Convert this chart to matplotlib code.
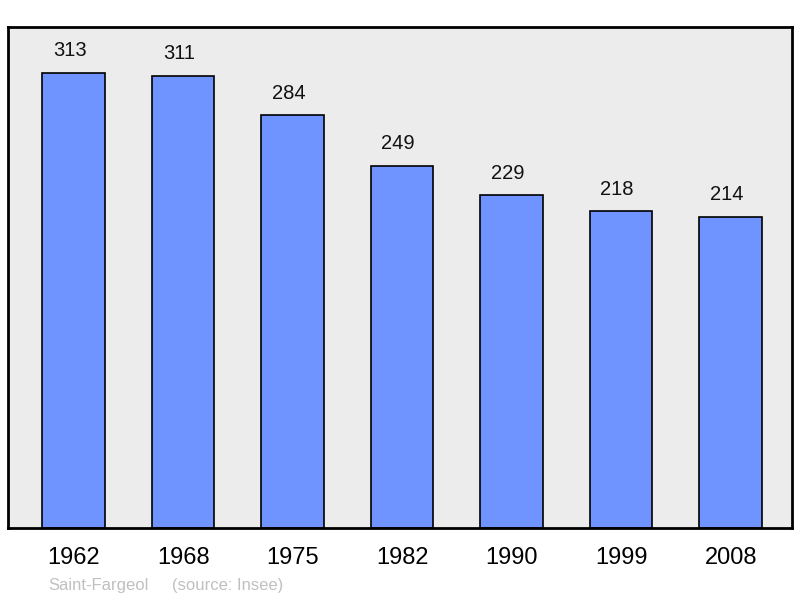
import matplotlib.pyplot as plt

years = ["1962", "1968", "1975", "1982", "1990", "1999", "2008"]
population = [313, 311, 284, 249, 229, 218, 214]

plt.rcParams['font.family'] = ['Liberation Sans', 'DejaVu Sans']

fig = plt.figure(figsize=(8, 5.98), dpi=100)
ax = fig.add_axes([0.01, 0.117, 0.98, 0.838])
ax.set_facecolor('#ececec')

x = range(len(years))
bars = ax.bar(x, population, width=0.57, color='#7094ff', edgecolor='black', linewidth=1.2)
for i, v in enumerate(population):
    ax.annotate(str(v), (i, v), xytext=(-3, 9), textcoords='offset points',
                ha='center', va='bottom', fontsize=14.5, color='#111111')

ax.set_xlim(-0.6, 6.56)
ax.set_ylim(0, 344.6)
ax.set_xticks(list(x))
ax.set_xticklabels(years, fontsize=17)
ax.tick_params(axis='x', length=0, pad=14)
ax.set_yticks([])
for s in ax.spines.values():
    s.set_linewidth(2)

fig.text(0.06, 0.014, "Saint-Fargeol", color='#c0c0c0', fontsize=12)
fig.text(0.215, 0.014, "(source: Insee)", color='#c0c0c0', fontsize=12)

plt.savefig('out.png')
